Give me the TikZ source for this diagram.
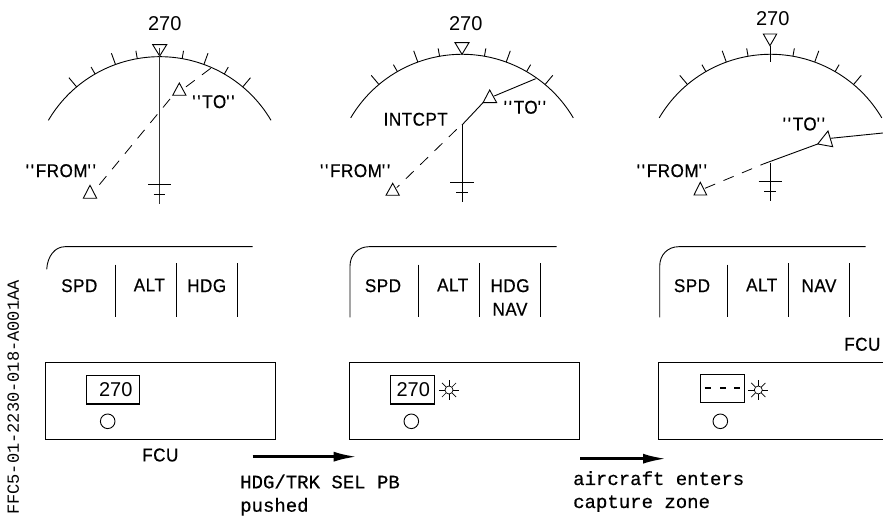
\documentclass[tikz,border=0pt]{standalone}
\usepackage{fontspec}
\setmainfont{Liberation Sans}
\newfontfamily\narrowfont[FakeStretch=0.92,FakeBold=0.6,LetterSpace=3]{Liberation Sans}
\newfontfamily\notefont[FakeBold=0.5]{Liberation Mono}
\newfontfamily\reffont{Liberation Mono}
\usepackage{xcolor}
\usetikzlibrary{arrows.meta}
\newcommand{\tick}{\textquotesingle\kern1.5pt\textquotesingle\kern1.5pt}
\tikzset{
  lbl/.style={font=\narrowfont\fontsize{18.5}{20}\selectfont,inner sep=0pt},
  num/.style={font=\fontsize{20}{22}\selectfont,inner sep=0pt},
  note/.style={font=\notefont\fontsize{19}{21}\selectfont,inner sep=0pt,anchor=base west},
  thinl/.style={line width=0.9pt},
  panel/.style={line width=1.1pt},
  track/.style={line width=0.8pt,dash pattern=on 11pt off 9pt},
  modearrow/.style={line width=2.6pt,-{Latex[length=23pt,width=10pt]}}
}
\begin{document}
\begin{tikzpicture}[x=1pt,y=1pt,every path/.style={line join=miter}]
  \useasboundingbox (0,0) rectangle (883,516);
  % compass arcs, graduations
  \foreach \cx/\cy in {159.7/459.3,462/461.7,770.5/461.7} {
    \begin{scope}[shift={(\cx,\cy-129.2)}]
      \draw[thinl] (149.5:129.2) arc (149.5:30.5:129.2);
      \foreach \a/\l in {50/12,60/8,70/12,80/8,100/8,110/12,120/8,130/12}
        \draw[thinl] (\a:129.2) -- (\a:129.2+\l);
    \end{scope}
  }
  % left: heading selected
  \node[num] (hdgA) at (164.7,492) {270};
  \draw[thinl] (152.7,471.3) -- (166.7,471.3) -- (159.7,460) -- cycle;
  \draw[line width=1.3pt,black!80] (159.7,468) -- (159.7,312);
  \draw[thinl] (148,331.7) -- (171.3,331.7);
  \draw[thinl] (153.7,321.7) -- (165.3,321.7);
  \draw[thinl] (172.7,420.7) -- (186,420.7) -- (179.3,433) -- cycle;
  \draw[thinl] (83.3,317.7) -- (96.7,317.7) -- (90,330.7) -- cycle;
  \draw[track] (210.7,447.7) -- (182.7,426.7);
  \draw[track] (170,417) -- (95,326);
  \node[lbl] (toA) at (214.3,414.3) {\tick TO\tick};
  \node[lbl] (fromA) at (61.7,345.3) {\tick FROM\tick};
  % middle: armed
  \node[num] (hdgB) at (465.7,492) {270};
  \draw[thinl] (455,473.3) -- (469,473.3) -- (462,461.7) -- cycle;
  \draw[thinl] (462,391) -- (462,314);
  \draw[thinl] (450.3,334) -- (473.7,334);
  \draw[thinl] (456,323.7) -- (467.7,323.7);
  \draw[thinl] (462,391) -- (483,413.3);
  \draw[thinl] (483,413.3) -- (496.7,413.3) -- (489.7,426) -- cycle;
  \draw[thinl] (494.3,420) -- (535.7,437.3);
  \draw[thinl] (386,320.7) -- (399.3,320.7) -- (392.7,332.7) -- cycle;
  \draw[track] (456.7,386.7) -- (396.7,328.3);
  \node[lbl] (toB) at (525.7,408.7) {\tick TO\tick};
  \node[lbl] (fromB) at (356,345.3) {\tick FROM\tick};
  \node[lbl] (intcpt) at (415.7,396.7) {INTCPT};
  % right: capture
  \node[num] (hdgC) at (772.7,497.7) {270};
  \draw[thinl] (763.3,482) -- (776.7,482) -- (770,470.3) -- cycle;
  \draw[thinl] (770.3,470.3) -- (770.3,454.3);
  \draw[thinl] (770.3,353.3) -- (770.3,314.7);
  \draw[thinl] (758.7,334.3) -- (782,334.3);
  \draw[thinl] (764.3,324.3) -- (776,324.3);
  \draw[thinl] (763.3,352) -- (817.7,372);
  \draw[thinl] (817.7,372) -- (828,385) -- (832.7,369.3) -- cycle;
  \draw[thinl] (830.7,377.7) -- (883,383);
  \draw[thinl] (694,321) -- (706.7,321) -- (700.3,333.7) -- cycle;
  \draw[track] (705,327.7) -- (763.3,352);
  \node[lbl] (toC) at (804.7,392) {\tick TO\tick};
  \node[lbl] (fromC) at (672.7,345.3) {\tick FROM\tick};
  % FMA
  \draw[thinl] (252.7,269.3) -- (65,269.3) .. controls (55,269.3) and (47.5,260) .. (46.7,246.7);
  \draw[thinl] (556.7,269.3) -- (369,269.3) .. controls (358,269.3) and (350,261) .. (350,250) -- (350,198.7);
  \draw[thinl] (865.7,269.3) -- (678.7,269.3) .. controls (667.7,269.3) and (659.7,261) .. (659.7,250) -- (659.7,198.7);
  \foreach \x in {115,418.7,727.3} \draw[thinl] (\x,251.3) -- (\x,198.7);
  \foreach \x in {176,237,479.7,540,788.3,849} \draw[thinl] (\x,252.7) -- (\x,198.7);
  \node[lbl] (spdA) at (79.3,230.3) {SPD};
  \node[lbl] (altA) at (149.3,231) {ALT};
  \node[lbl] (modeA) at (206.7,230.3) {HDG};
  \node[lbl] (spdB) at (383,230.3) {SPD};
  \node[lbl] (altB) at (452.7,231) {ALT};
  \node[lbl] (modeB) at (510,230.3) {HDG};
  \node[lbl] (navB) at (510,206.7) {NAV};
  \node[lbl] (spdC) at (692,230.3) {SPD};
  \node[lbl] (altC) at (761.7,231) {ALT};
  \node[lbl] (navC) at (819,230.3) {NAV};
  % FCU
  \draw[panel] (45.7,153.3) rectangle (275.7,76.7);
  \draw[panel] (349.7,153.3) rectangle (579.3,76.7);
  \draw[panel] (883,153.3) -- (658.3,153.3) -- (658.3,76.7) -- (883,76.7);
  \draw[panel] (86.7,140.7) rectangle (139.3,112);
  \draw[panel] (390.7,140.7) rectangle (434.7,112);
  \draw[panel] (700.3,141.7) rectangle (744.7,113.3);
  \node[num] (selA) at (115.7,126) {270};
  \node[num] (selB) at (413.3,126) {270};
  \foreach \xa/\xb in {704.7/710.7,720/726,734.3/740}
    \draw[line width=1.6pt] (\xa,128) -- (\xb,128);
  \foreach \x in {107.7,411.3,720.3} \draw[thinl] (\x,94.7) circle (7.3);
  \foreach \x in {449,758.3} {
    \draw[line width=0.7pt] (\x,126) circle (4);
    \foreach \a in {0,45,...,315} \draw[line width=0.7pt] (\x,126) ++(\a:4) -- ++(\a:6);
  }
  \node[lbl] (fcuA) at (160.3,61) {FCU};
  \node[lbl] (fcuC) at (862.3,171.7) {FCU};
  % transitions
  \coordinate (goA) at (252.7,59.3);
  \coordinate (endA) at (356.7,59.3);
  \coordinate (goB) at (580,57.3);
  \coordinate (endB) at (666,57.3);
  \draw[modearrow] (goA) -- (endA);
  \draw[modearrow] (goB) -- (endB);
  \node[note] (pbl) at (240,27.7) {HDG/TRK SEL PB};
  \node[note] (pbm) at (240,4.3) {pushed};
  \node[note] (acl) at (573,31) {aircraft enters};
  \node[note] (acm) at (573,8) {capture zone};
  \node[font=\reffont\fontsize{17}{19}\selectfont,inner sep=0pt,rotate=90,anchor=east] (ref) at (13.3,236) {FFC5-01-2230-018-A001AA};
\end{tikzpicture}
\end{document}
